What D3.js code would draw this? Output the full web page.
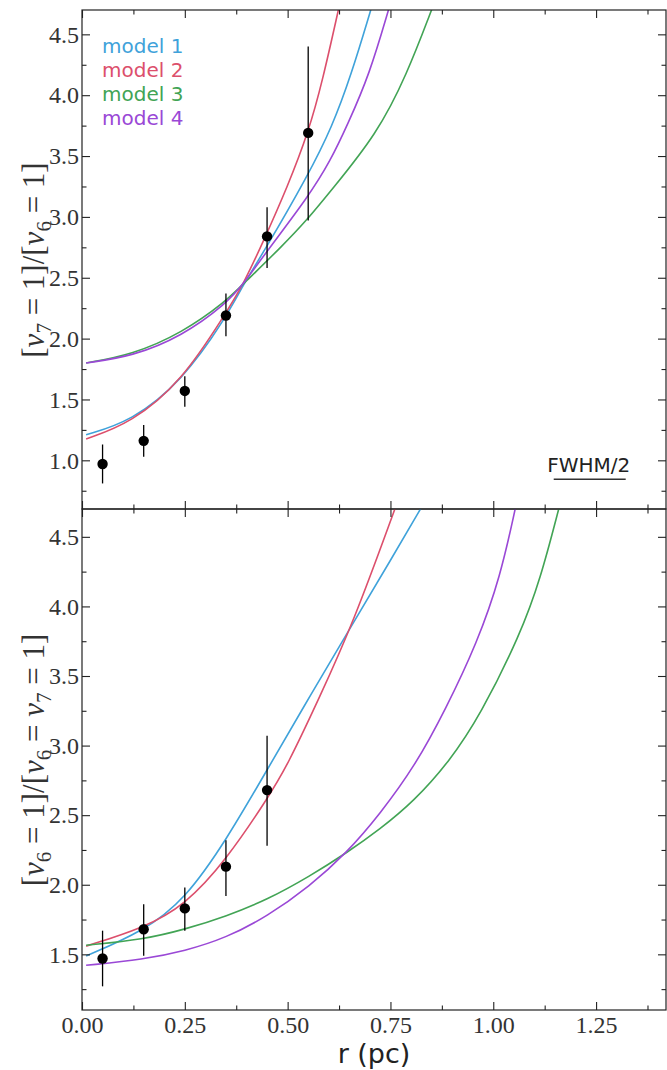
<!DOCTYPE html>
<html>
<head>
<meta charset="utf-8">
<script src="https://cdn.jsdelivr.net/npm/d3@7"></script>
<style>
  body { margin: 0; background: #fff; }
  .tick line { stroke: #222; stroke-width: 1.1; }
  .tick text { font-family: "Liberation Serif", serif; font-size: 24px; fill: #333; }
</style>
</head>
<body>
<div id="chart"></div>
<script>
// ---- data ----
const rBins = [0.05, 0.15, 0.25, 0.35, 0.45, 0.55];

// top panel: [v7=1]/[v6=1]
const topRatio = [0.97, 1.16, 1.57, 2.19, 2.84, 3.69];
const topLo    = [0.81, 1.03, 1.44, 2.02, 2.58, 2.97];
const topHi    = [1.13, 1.29, 1.69, 2.37, 3.08, 4.40];

// bottom panel: [v6=1]/[v6=v7=1]
const botRatio = [1.47, 1.68, 1.83, 2.13, 2.68];
const botLo    = [1.27, 1.49, 1.67, 1.92, 2.28];
const botHi    = [1.67, 1.86, 1.98, 2.32, 3.07];

// model curves, [r, ratio]
const topModel1 = [[0.01,1.21],[0.12,1.32],[0.243,1.65],[0.35,2.17],[0.394,2.456],[0.44,2.70],[0.551,3.35],[0.608,3.74],[0.654,4.16],[0.703,4.71]];
const topModel2 = [[0.01,1.175],[0.12,1.307],[0.243,1.65],[0.35,2.21],[0.394,2.456],[0.441,2.80],[0.50,3.25],[0.551,3.70],[0.585,4.12],[0.624,4.71]];
const topModel3 = [[0.01,1.80],[0.122,1.868],[0.243,2.046],[0.35,2.305],[0.394,2.456],[0.487,2.76],[0.551,2.99],[0.604,3.21],[0.717,3.68],[0.79,4.17],[0.851,4.71]];
const topModel4 = [[0.01,1.80],[0.122,1.854],[0.243,2.02],[0.35,2.284],[0.394,2.456],[0.45,2.72],[0.551,3.17],[0.604,3.46],[0.646,3.76],[0.699,4.17],[0.746,4.71]];

const botModel1 = [[0.01,1.488],[0.15,1.667],[0.25,1.893],[0.351,2.321],[0.451,2.83],[0.555,3.36],[0.66,3.884],[0.75,4.33],[0.825,4.71]];
const botModel2 = [[0.01,1.559],[0.15,1.69],[0.25,1.852],[0.351,2.179],[0.451,2.619],[0.50,2.86],[0.575,3.33],[0.66,3.884],[0.762,4.71]];
const botModel3 = [[0.01,1.565],[0.15,1.607],[0.25,1.679],[0.351,1.774],[0.451,1.893],[0.553,2.06],[0.644,2.23],[0.725,2.40],[0.807,2.60],[0.892,2.88],[0.969,3.22],[1.066,3.80],[1.115,4.20],[1.16,4.71]];
const botModel4 = [[0.01,1.421],[0.15,1.464],[0.25,1.524],[0.351,1.619],[0.451,1.774],[0.553,1.988],[0.644,2.23],[0.725,2.51],[0.811,2.86],[0.884,3.26],[0.961,3.74],[1.0175,4.216],[1.054,4.71]];

const modelNames = ["model 1", "model 2", "model 3", "model 4"];
const modelColors = ["#3fa2da", "#dc4f6c", "#42a455", "#9a48d6"];

const rMajor = [0, 0.25, 0.5, 0.75, 1.0, 1.25];
const rMinor = [0.125, 0.375, 0.625, 0.875, 1.125, 1.375];
const topMajor = [1.0, 1.5, 2.0, 2.5, 3.0, 3.5, 4.0, 4.5];
const topMinor = [0.75, 1.25, 1.75, 2.25, 2.75, 3.25, 3.75, 4.25];
const botMajor = [1.5, 2.0, 2.5, 3.0, 3.5, 4.0, 4.5];
const botMinor = [1.25, 1.75, 2.25, 2.75, 3.25, 3.75, 4.25];

const fwhmHalf = [1.147, 1.322]; // bar in r (pc)

// ---- setup ----
const width = 667, height = 1070;
const left = 82, right = 666;

const svg = d3.select("#chart").append("svg")
    .attr("width", width)
    .attr("height", height);

const x = d3.scaleLinear().domain([0, 1.42]).range([left, right]);
const yTop = d3.scaleLinear().domain([0.6, 4.7]).range([509, 10]);
const yBot = d3.scaleLinear().domain([1.1, 4.7]).range([1010, 509]);

function drawPanel(id, y, models, ratio, lo, hi, major, minor, xLabels) {
    const g = svg.append("g");
    const y0 = y.range()[0], y1 = y.range()[1];

    g.append("clipPath").attr("id", id)
      .append("rect")
        .attr("x", left).attr("y", y1)
        .attr("width", right - left).attr("height", y0 - y1);

    // curves
    const line = d3.line()
        .x(d => x(d[0]))
        .y(d => y(d[1]))
        .curve(d3.curveBasis);
    g.append("g").attr("clip-path", "url(#" + id + ")")
      .selectAll("path")
      .data(models)
      .enter().append("path")
        .attr("d", line)
        .attr("fill", "none")
        .attr("stroke", (d, i) => modelColors[i])
        .attr("stroke-width", 1.6);

    // error bars + points
    const pts = ratio.map((v, i) => ({r: rBins[i], v: v, lo: lo[i], hi: hi[i]}));
    g.append("g").selectAll("line")
      .data(pts).enter().append("line")
        .attr("x1", d => x(d.r)).attr("x2", d => x(d.r))
        .attr("y1", d => y(d.lo)).attr("y2", d => y(d.hi))
        .attr("stroke", "#000").attr("stroke-width", 1.3);
    g.append("g").selectAll("circle")
      .data(pts).enter().append("circle")
        .attr("cx", d => x(d.r)).attr("cy", d => y(d.v))
        .attr("r", 5.2).attr("fill", "#000");

    // axes (ticks inward on every side)
    const addAxis = (axis, tx, ty) => {
        const a = g.append("g").attr("transform", `translate(${tx},${ty})`).call(axis);
        a.select(".domain").remove();
        return a;
    };
    addAxis(d3.axisLeft(y).tickValues(major).tickSize(-8).tickPadding(3).tickFormat(d3.format(".1f")), left, 0);
    addAxis(d3.axisLeft(y).tickValues(minor).tickSize(-4.5).tickFormat(""), left, 0);
    addAxis(d3.axisRight(y).tickValues(major).tickSize(-8).tickFormat(""), right, 0);
    addAxis(d3.axisRight(y).tickValues(minor).tickSize(-4.5).tickFormat(""), right, 0);
    addAxis(d3.axisTop(x).tickValues(rMajor).tickSize(-8).tickFormat(""), 0, y1);
    addAxis(d3.axisTop(x).tickValues(rMinor).tickSize(-4.5).tickFormat(""), 0, y1);
    addAxis(d3.axisBottom(x).tickValues(rMajor).tickSize(-8).tickPadding(6)
        .tickFormat(xLabels ? d3.format(".2f") : ""), 0, y0);
    addAxis(d3.axisBottom(x).tickValues(rMinor).tickSize(-4.5).tickFormat(""), 0, y0);

    // frame
    g.append("rect")
        .attr("x", left).attr("y", y1)
        .attr("width", right - left).attr("height", y0 - y1)
        .attr("fill", "none").attr("stroke", "#222").attr("stroke-width", 1.2);
    return g;
}

drawPanel("clipTop", yTop, [topModel1, topModel2, topModel3, topModel4],
    topRatio, topLo, topHi, topMajor, topMinor, false);
drawPanel("clipBot", yBot, [botModel1, botModel2, botModel3, botModel4],
    botRatio, botLo, botHi, botMajor, botMinor, true);

// legend
svg.append("g").selectAll("text")
  .data(modelNames).enter().append("text")
    .attr("x", 102)
    .attr("y", (d, i) => 53 + i * 24)
    .attr("fill", (d, i) => modelColors[i])
    .style("font-family", "'DejaVu Sans', sans-serif")
    .style("font-size", "20px")
    .text(d => d);

// FWHM/2 bar
const fwhmY = yTop(0.845);
svg.append("line")
    .attr("x1", x(fwhmHalf[0])).attr("x2", x(fwhmHalf[1]))
    .attr("y1", fwhmY).attr("y2", fwhmY)
    .attr("stroke", "#333").attr("stroke-width", 1.6);
svg.append("text")
    .attr("x", (x(fwhmHalf[0]) + x(fwhmHalf[1])) / 2 - 1)
    .attr("y", fwhmY - 7)
    .attr("text-anchor", "middle")
    .attr("fill", "#222")
    .style("font-family", "'DejaVu Sans', sans-serif")
    .style("font-size", "20px")
    .text("FWHM/2");

// y-axis titles: pieces of [v_a = 1]/[v_b = 1]
function yTitle(cx, cy, parts) {
    const t = svg.append("text")
        .attr("transform", `translate(${cx},${cy}) rotate(-90)`)
        .attr("text-anchor", "middle")
        .attr("fill", "#333")
        .style("font-family", "'Liberation Serif', serif")
        .style("font-size", "31px");
    parts.forEach(p => {
        const s = t.append("tspan").text(p[0]);
        if (p[1] === "i") s.style("font-style", "italic");
        if (p[1] === "sub") s.attr("dy", 7).style("font-size", "21px");
        if (p[1] === "up") s.attr("dy", -7);
    });
}
yTitle(44, 260, [["["], ["v", "i"], ["7", "sub"], [" = 1]/[", "up"], ["v", "i"], ["6", "sub"], [" = 1]", "up"]]);
yTitle(44, 760, [["["], ["v", "i"], ["6", "sub"], [" = 1]/[", "up"], ["v", "i"], ["6", "sub"], [" = ", "up"],
                 ["v", "i"], ["7", "sub"], [" = 1]", "up"]]);

// x-axis title
svg.append("text")
    .attr("x", (left + right) / 2)
    .attr("y", 1063)
    .attr("text-anchor", "middle")
    .attr("fill", "#222")
    .style("font-family", "'DejaVu Sans', sans-serif")
    .style("font-size", "27px")
    .text("r (pc)");
</script>
</body>
</html>
